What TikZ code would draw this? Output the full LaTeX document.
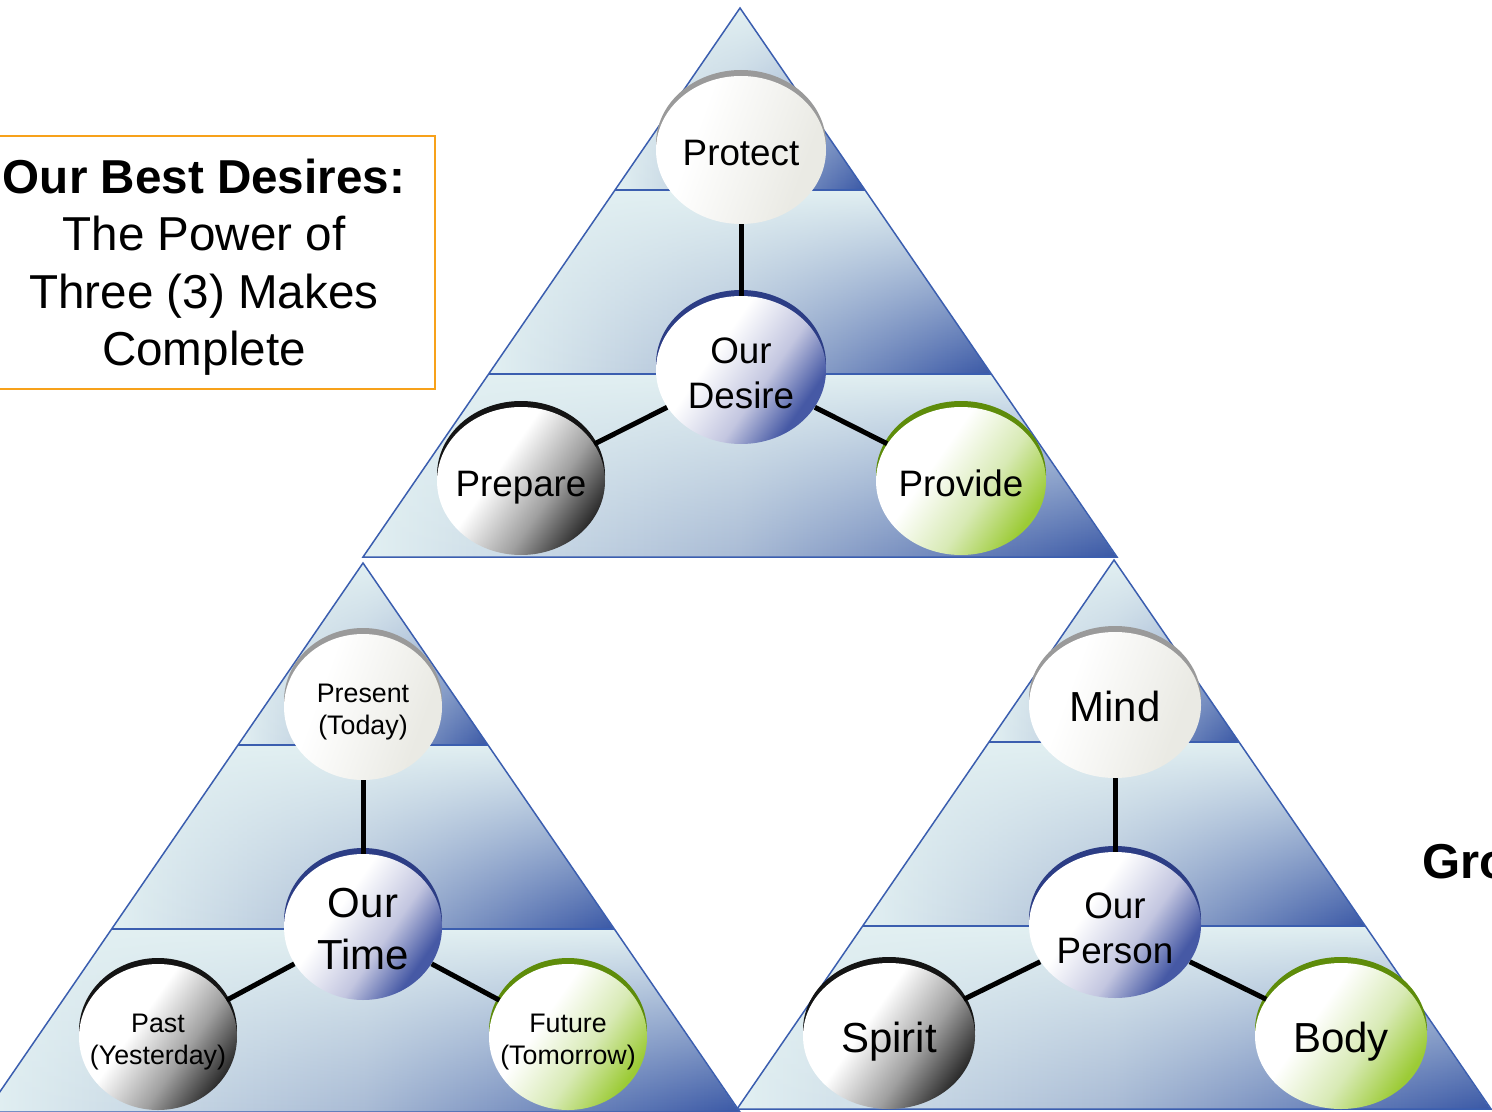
\documentclass[tikz,border=0pt]{standalone}
\usepackage{fontspec}
\setmainfont{Liberation Sans}
\usetikzlibrary{shapes.geometric,fadings}

\definecolor{bandlight}{HTML}{E2F0F2}
\definecolor{bandmid}{HTML}{A9BBD5}
\definecolor{banddark}{HTML}{3A58A6}
\definecolor{triedge}{HTML}{3B5EAF}
\definecolor{boxorange}{HTML}{F7A11A}
\definecolor{rimgray}{HTML}{9A9A9A}
\definecolor{rimnavy}{HTML}{2C3D85}
\definecolor{rimblack}{HTML}{141414}
\definecolor{rimgreen}{HTML}{5E8C0A}
\definecolor{pearl}{HTML}{EAEAE4}
\definecolor{bubblue}{HTML}{4659A5}
\definecolor{bublav}{HTML}{C3C6E0}
\definecolor{bubdark}{HTML}{2B2B2B}
\definecolor{bubgrey}{HTML}{A0A0A0}
\definecolor{bubgreen}{HTML}{9CCB36}
\definecolor{bubpale}{HTML}{D8EAB5}

\pgfdeclareverticalshading{shwhite}{100bp}{color(0bp)=(pearl); color(30bp)=(pearl); color(65bp)=(white); color(100bp)=(white)}
\pgfdeclareverticalshading{shblue}{100bp}{color(0bp)=(bubblue); color(28bp)=(bubblue); color(42bp)=(bublav); color(60bp)=(white); color(100bp)=(white)}
\pgfdeclareverticalshading{shblack}{100bp}{color(0bp)=(bubdark); color(25bp)=(bubdark); color(40bp)=(bubgrey); color(58bp)=(white); color(100bp)=(white)}
\pgfdeclareverticalshading{shgreen}{100bp}{color(0bp)=(bubgreen); color(26bp)=(bubgreen); color(42bp)=(bubpale); color(60bp)=(white); color(100bp)=(white)}

\tikzset{
  bandbase/.style={fill=bandlight},
  bandfade/.style={left color=bandlight, right color=banddark, middle color=bandmid, path fading=north},
  triline/.style={draw=triedge, line width=0.75pt},
  bub/.style={ellipse, inner sep=0pt, text=black, shade, shading angle=55},
  bubA/.style={bub, minimum width=85pt, minimum height=74pt},
  bubB/.style={bub, minimum width=79pt, minimum height=73pt},
  bubC/.style={bub, minimum width=86pt, minimum height=73pt},
  bwhite/.style={shading=shwhite, shading angle=70},
  bblue/.style={shading=shblue},
  bblack/.style={shading=shblack},
  bgreen/.style={shading=shgreen},
  link/.style={line width=2.5pt, black},
  pics/pyramid/.style={code={
    \fill[bandbase] (0,0) -- (125,182) -- (-125,182) -- cycle;
    \shade[bandfade] (0,0) -- (125,182) -- (-125,182) -- cycle;
    \fill[bandbase] (-125,182) -- (125,182) -- (251,366) -- (-251,366) -- cycle;
    \shade[bandfade] (-125,182) -- (125,182) -- (251,366) -- (-251,366) -- cycle;
    \fill[bandbase] (-251,366) -- (251,366) -- (377,549) -- (-377,549) -- cycle;
    \shade[bandfade] (-251,366) -- (251,366) -- (377,549) -- (-377,549) -- cycle;
    \draw[triline] (0,0) -- (377,549) -- (-377,549) -- cycle;
    \draw[triline] (-125,182) -- (125,182) (-251,366) -- (251,366);
  }}
}

\newcommand{\fA}{\fontsize{18.4}{22.5}\selectfont}
\newcommand{\fB}{\fontsize{13.4}{16}\selectfont}
\newcommand{\fC}{\fontsize{21}{26}\selectfont}
\newcommand{\bt}[1]{\makebox[0pt]{\smash{\raisebox{\dimexpr-0.25em-3pt\relax}{\begin{tabular}{@{}c@{}}#1\end{tabular}}}}}

\begin{document}
\begin{tikzpicture}[x=0.5pt, y=-0.5pt]
\useasboundingbox (0,0) rectangle (1492,1112);

% pyramids
\pic at (740,8) {pyramid};
\pic at (363,563) {pyramid};
\pic at (1114,560) {pyramid};

% title box
\draw[boxorange, line width=1pt] (-10,136) rectangle (435,389);
\node[align=center, font=\fontsize{23.8}{28.7}\selectfont] (title) at (204,267)
  {\textbf{Our Best Desires:}\\The Power of\\Three (3) Makes\\Complete};

\node[anchor=base west, inner sep=0pt, font=\bfseries\fontsize{24.5}{29}\selectfont] (gro) at (1422,878) {Gro};

% rims (top pyramid)
\fill[rimgray]  (741,144) ellipse [x radius=42.5pt, y radius=37pt];
\fill[rimnavy]  (741,364) ellipse [x radius=42.5pt, y radius=37pt];
\fill[rimblack] (521,475) ellipse [x radius=42pt, y radius=37pt];
\fill[rimgreen] (961,475) ellipse [x radius=42.5pt, y radius=37pt];
% rims (left pyramid)
\fill[rimgray]  (363,701) ellipse [x radius=39.5pt, y radius=36.5pt];
\fill[rimnavy]  (363,921) ellipse [x radius=39.5pt, y radius=36.5pt];
\fill[rimblack] (158,1031) ellipse [x radius=39.5pt, y radius=36.5pt];
\fill[rimgreen] (568,1031) ellipse [x radius=39.5pt, y radius=36.5pt];
% rims (right pyramid)
\fill[rimgray]  (1115,699) ellipse [x radius=43pt, y radius=36.5pt];
\fill[rimnavy]  (1115,919) ellipse [x radius=43pt, y radius=36.5pt];
\fill[rimblack] (889,1030) ellipse [x radius=43pt, y radius=36.5pt];
\fill[rimgreen] (1341,1030) ellipse [x radius=43pt, y radius=36.5pt];

% top pyramid bubbles
\node[bubA, bwhite, font=\fA] (protect) at (741,150) {\bt{Protect}};
\node[bubA, bblue,  font=\fA] (desire)  at (741,370) {\bt{Our\\Desire}};
\node[bubA, bblack, font=\fA, minimum width=84pt] (prepare) at (521,481) {\bt{Prepare}};
\node[bubA, bgreen, font=\fA] (provide) at (961,481) {\bt{Provide}};

% left pyramid bubbles
\node[bubB, bwhite, font=\fB] (present) at (363,707) {\bt{Present\\(Today)}};
\node[bubB, bblue,  font=\fC] (ourtime) at (363,927) {\bt{Our\\Time}};
\node[bubB, bblack, font=\fB] (past)    at (158,1037) {\bt{Past\\(Yesterday)}};
\node[bubB, bgreen, font=\fB] (future)  at (568,1037) {\bt{Future\\(Tomorrow)}};

% right pyramid bubbles
\node[bubC, bwhite, font=\fC] (mind)      at (1115,705) {\bt{Mind}};
\node[bubC, bblue,  font=\fA] (ourperson) at (1115,925) {\bt{Our\\Person}};
\node[bubC, bblack, font=\fC] (spirit)    at (889,1036) {\bt{Spirit}};
\node[bubC, bgreen, font=\fC] (body)      at (1341,1036) {\bt{Body}};

% connectors
\draw[link] (protect) -- (desire);
\draw[link] (desire) -- (prepare);
\draw[link] (desire) -- (provide);
\draw[link] (present) -- (ourtime);
\draw[link] (ourtime) -- (past);
\draw[link] (ourtime) -- (future);
\draw[link] (mind) -- (ourperson);
\draw[link] (ourperson) -- (spirit);
\draw[link] (ourperson) -- (body);
\end{tikzpicture}
\end{document}
